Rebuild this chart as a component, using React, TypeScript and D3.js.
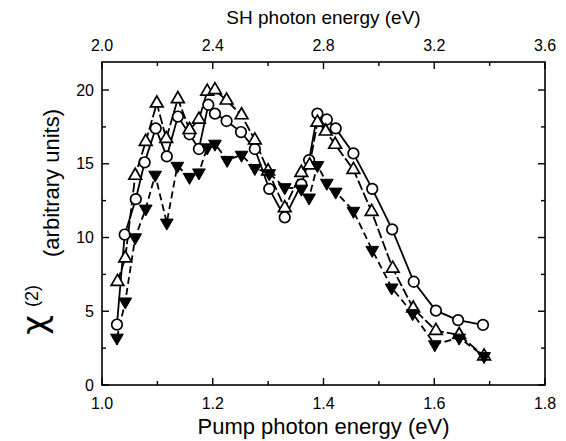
import React from "react";
import { scaleLinear, line, symbol, symbolTriangle, symbolCircle } from "d3";

// open circles (solid line)
const circleX = [1.027, 1.041, 1.061, 1.077, 1.097, 1.117, 1.137, 1.158, 1.175, 1.192, 1.204, 1.225, 1.251, 1.276, 1.302, 1.33, 1.36, 1.374, 1.389, 1.406, 1.422, 1.454, 1.488, 1.524, 1.563, 1.603, 1.643, 1.688];
const circleY = [4.1, 10.2, 12.6, 15.1, 17.4, 15.5, 18.2, 17.0, 16.0, 19.0, 18.4, 17.9, 17.15, 16.0, 13.3, 11.37, 13.6, 15.25, 18.4, 18.0, 17.4, 15.7, 13.3, 10.55, 7.0, 5.04, 4.4, 4.07];

// open triangles
const triX = [1.028, 1.042, 1.06, 1.079, 1.099, 1.116, 1.137, 1.158, 1.175, 1.19, 1.204, 1.225, 1.252, 1.276, 1.3, 1.33, 1.36, 1.375, 1.389, 1.404, 1.421, 1.454, 1.487, 1.525, 1.562, 1.603, 1.645, 1.69];
const triY = [7.0, 8.6, 14.2, 16.5, 19.1, 16.7, 19.4, 17.3, 18.0, 19.9, 20.0, 19.3, 18.3, 16.6, 14.5, 12.0, 14.4, 14.9, 17.8, 17.2, 16.3, 14.6, 11.75, 7.9, 5.2, 3.68, 3.4, 1.95];

// filled down triangles
const fillX = [1.027, 1.042, 1.06, 1.079, 1.096, 1.117, 1.136, 1.158, 1.175, 1.19, 1.204, 1.226, 1.252, 1.276, 1.302, 1.33, 1.36, 1.374, 1.389, 1.406, 1.422, 1.454, 1.488, 1.523, 1.561, 1.601, 1.645, 1.69];
const fillY = [3.2, 5.65, 10.0, 11.95, 14.25, 11.0, 14.85, 14.1, 14.4, 16.1, 16.35, 15.25, 15.6, 14.7, 14.35, 13.4, 13.3, 12.7, 14.9, 13.7, 13.1, 11.8, 9.15, 6.6, 4.86, 2.75, 3.2, 1.95];

const bottomMajor = [1.0, 1.2, 1.4, 1.6, 1.8];
const bottomMinor = [1.1, 1.3, 1.5, 1.7];
const topMajor = [2.0, 2.4, 2.8, 3.2, 3.6];
const topMinor = [2.2, 2.6, 3.0, 3.4];
const yMajor = [0, 5, 10, 15, 20];
const yMinor = [2.5, 7.5, 12.5, 17.5];

const W = 566;
const H = 441;
const L = 102, R = 545, T = 62, B = 385;
const font = "'Liberation Sans', Arial, sans-serif";

export default function App() {
  const x = scaleLinear().domain([1.0, 1.8]).range([L, R]);
  const xTop = scaleLinear().domain([2.0, 3.6]).range([L, R]);
  const y = scaleLinear().domain([0, 21.9]).range([B, T]);

  const mk = (xs: number[], ys: number[]) => xs.map((v, i) => [x(v), y(ys[i])] as [number, number]);
  const pts = {
    c: mk(circleX, circleY),
    t: mk(triX, triY),
    f: mk(fillX, fillY),
  };
  const lg = line();
  const triPath = symbol(symbolTriangle, 70)()!;
  const circPath = symbol(symbolCircle, Math.PI * 5.3 * 5.3)()!;

  return (
    <svg width={W} height={H} style={{ position: "absolute", left: 0, top: 0, background: "#fff" }}>
      <rect x={0} y={0} width={W} height={H} fill="#fff" />
      {/* lines */}
      <path d={lg(pts.c)!} fill="none" stroke="#000" strokeWidth={1.8} />
      <path d={lg(pts.t)!} fill="none" stroke="#000" strokeWidth={1.8} strokeDasharray="10,3" />
      <path d={lg(pts.f)!} fill="none" stroke="#000" strokeWidth={1.8} strokeDasharray="7,4" />
      {/* markers */}
      {pts.c.map((p, i) => (
        <path key={"c" + i} d={circPath} transform={`translate(${p[0]},${p[1]})`} fill="#fff" stroke="#000" strokeWidth={1.7} />
      ))}
      {pts.t.map((p, i) => (
        <path key={"t" + i} d={triPath} transform={`translate(${p[0]},${p[1]})`} fill="#fff" stroke="#000" strokeWidth={1.7} />
      ))}
      {pts.f.map((p, i) => (
        <path key={"f" + i} d={triPath} transform={`translate(${p[0]},${p[1]}) rotate(180)`} fill="#000" stroke="#000" strokeWidth={1} />
      ))}

      {/* frame */}
      <rect x={L} y={T} width={R - L} height={B - T} fill="none" stroke="#000" strokeWidth={1.6} />

      {/* ticks */}
      <g stroke="#000" strokeWidth={1.4}>
        {bottomMajor.map((v) => <line key={"bM" + v} x1={x(v)} x2={x(v)} y1={B} y2={B - 7} />)}
        {bottomMinor.map((v) => <line key={"bm" + v} x1={x(v)} x2={x(v)} y1={B} y2={B - 4} />)}
        {topMajor.map((v) => <line key={"tM" + v} x1={xTop(v)} x2={xTop(v)} y1={T} y2={T + 7} />)}
        {topMinor.map((v) => <line key={"tm" + v} x1={xTop(v)} x2={xTop(v)} y1={T} y2={T + 4} />)}
        {yMajor.map((v) => <line key={"lM" + v} x1={L} x2={L + 7} y1={y(v)} y2={y(v)} />)}
        {yMinor.map((v) => <line key={"lm" + v} x1={L} x2={L + 4} y1={y(v)} y2={y(v)} />)}
        {yMajor.map((v) => <line key={"rM" + v} x1={R} x2={R - 7} y1={y(v)} y2={y(v)} />)}
        {yMinor.map((v) => <line key={"rm" + v} x1={R} x2={R - 4} y1={y(v)} y2={y(v)} />)}
      </g>

      {/* tick labels */}
      <g fontFamily={font} fontSize={16} fill="#000">
        {bottomMajor.map((v) => (
          <text key={"bl" + v} x={x(v)} y={409} textAnchor="middle">{v.toFixed(1)}</text>
        ))}
        {topMajor.map((v) => (
          <text key={"tl" + v} x={xTop(v)} y={51} textAnchor="middle">{v.toFixed(1)}</text>
        ))}
        {yMajor.map((v) => (
          <text key={"yl" + v} x={L - 8} y={y(v) + 5.5} textAnchor="end">{v}</text>
        ))}
      </g>

      {/* axis titles */}
      <text x={(L + R) / 2} y={434} textAnchor="middle" fontFamily={font} fontSize={22}>Pump photon energy (eV)</text>
      <text x={(L + R) / 2} y={24} textAnchor="middle" fontFamily={font} fontSize={19}>SH photon energy (eV)</text>
      <text transform="translate(46,325) rotate(-90)" textAnchor="middle" fontFamily="'DejaVu Sans', sans-serif" fontSize={34}>χ</text>
      <text transform="translate(38,296) rotate(-90)" textAnchor="middle" fontFamily={font} fontSize={18}>(2)</text>
      <text transform="translate(59,183) rotate(-90)" textAnchor="middle" fontFamily={font} fontSize={22}>(arbitrary units)</text>
    </svg>
  );
}
